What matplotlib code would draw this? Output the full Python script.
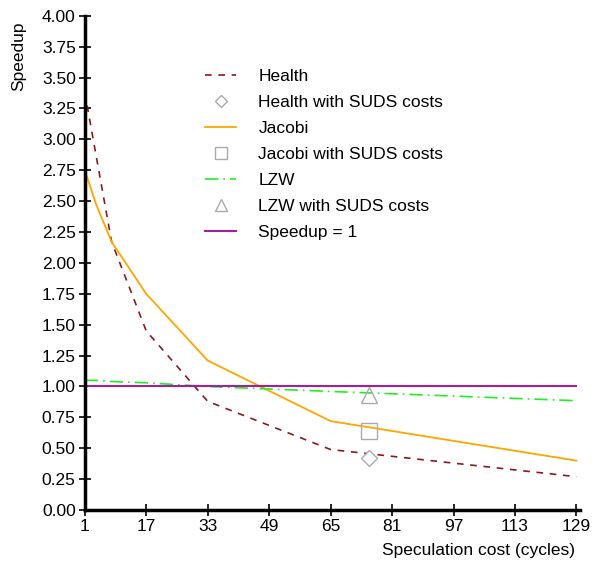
import matplotlib.pyplot as plt

plt.rcParams['font.family'] = ['Liberation Sans', 'DejaVu Sans']

# speculation cost (cycles)
cost = [1, 4, 8, 17, 33, 65, 129]
health = [3.38, 2.86, 2.17, 1.45, 0.88, 0.49, 0.27]
jacobi = [2.75, 2.47, 2.17, 1.75, 1.21, 0.72, 0.40]
lzw = [1.05, 1.05, 1.04, 1.03, 1.00, 0.96, 0.885]
baseline = [1.0, 1.0]
baseline_x = [1, 129]

suds_x = [75]
health_suds = [0.42]
jacobi_suds = [0.64]
lzw_suds = [0.93]

xticks = [1, 17, 33, 49, 65, 81, 97, 113, 129]
yticks = [i * 0.25 for i in range(17)]

fig = plt.figure(figsize=(5.97, 5.63), dpi=100)
ax = fig.add_axes([0.142, 0.094, 0.830, 0.878])

ax.plot(cost, health, color='#8b1a1a', lw=1.2, ls=(0, (4, 4)), label='Health')
ax.plot(suds_x, health_suds, ls='none', marker='D', ms=8, mfc='white',
        mec='#aaaaaa', mew=1, label='Health with SUDS costs')
ax.plot(cost, jacobi, color='#ffa500', lw=1.3, label='Jacobi')
ax.plot(suds_x, jacobi_suds, ls='none', marker='s', ms=11, mfc='none',
        mec='#aaaaaa', mew=1, label='Jacobi with SUDS costs')
ax.plot(cost, lzw, color='#22ee22', lw=1.2, ls=(0, (8, 3, 1, 3)), label='LZW')
ax.plot(suds_x, lzw_suds, ls='none', marker='^', ms=12, mfc='none',
        mec='#aaaaaa', mew=1, label='LZW with SUDS costs')
ax.plot(baseline_x, baseline, color='#a020a0', lw=1.5, label='Speedup = 1')

ax.set_xlim(1, 130)
ax.set_ylim(0, 4)
ax.set_xticks(xticks)
ax.set_yticks(yticks)
ax.set_yticklabels(['%.2f' % v for v in yticks])
ax.tick_params(direction='inout', length=9, width=1.2, labelsize=12.5, pad=2)

for s in ['top', 'right']:
    ax.spines[s].set_visible(False)
ax.spines['left'].set_linewidth(2.5)
ax.spines['bottom'].set_linewidth(2.5)

fig.text(0.963, 0.008, 'Speculation cost (cycles)', ha='right', va='bottom', fontsize=12.5)
fig.text(0.018, 0.962, 'Speedup', rotation=90, ha='left', va='top', fontsize=12.5)

ax.legend(loc='upper left', bbox_to_anchor=(0.318, 0.905), bbox_transform=fig.transFigure,
          frameon=False, fontsize=12.5, handlelength=1.75, labelspacing=0.62,
          handletextpad=1.3, markerscale=0.75)

fig.savefig('out.png', dpi=100)
